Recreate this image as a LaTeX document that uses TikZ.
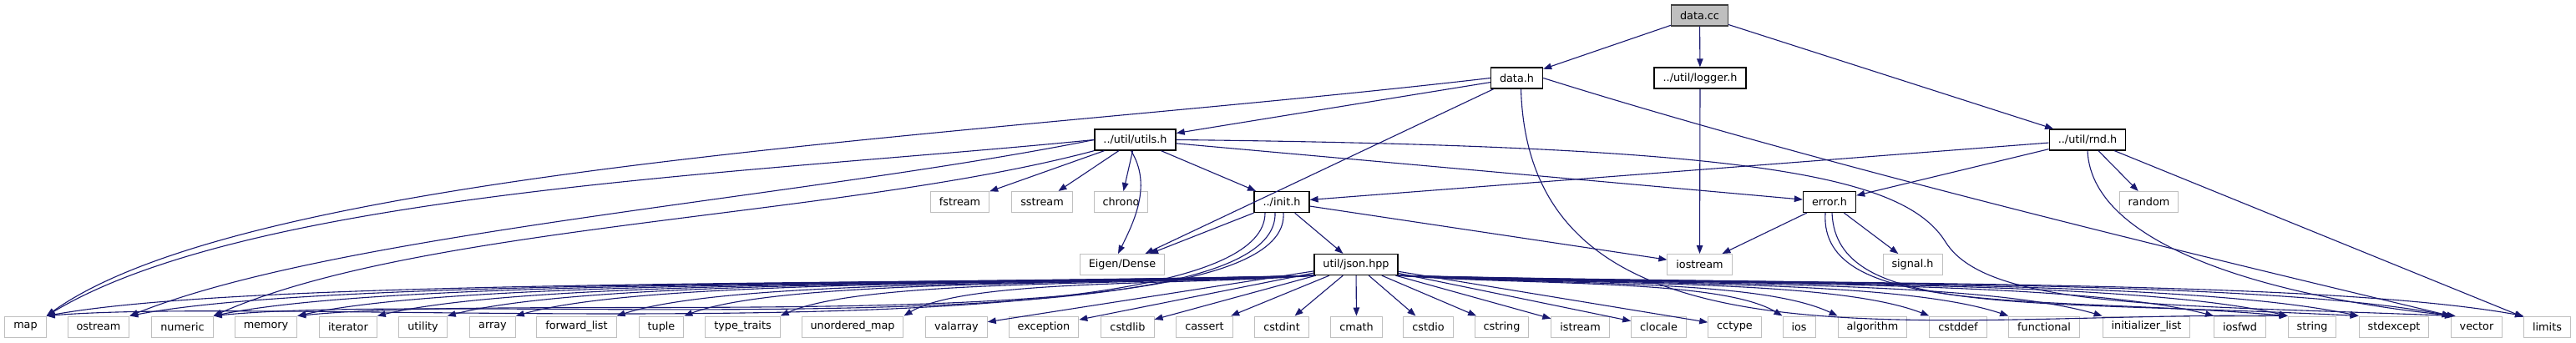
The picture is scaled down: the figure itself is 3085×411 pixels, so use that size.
\documentclass[tikz,border=0pt]{standalone}
\usepackage{fontspec}
\setmainfont{DejaVu Sans}
\usetikzlibrary{arrows.meta, positioning}
\definecolor{cedge}{HTML}{191970}
\definecolor{cgrey}{HTML}{BFBFBF}
\definecolor{cdark}{HTML}{404040}
\tikzset{
  every picture/.style={font=\fontsize{12.8}{14}\selectfont},
  file/.style={draw=black, fill=white, line width=1.3pt, minimum height=25pt, inner xsep=10.5pt, inner ysep=0pt},
  sys/.style={file, draw=cgrey, line width=1pt},
  root/.style={file, fill=cgrey, draw=cdark},
  dep/.style={-{Triangle[length=10pt, width=7.5pt]}, draw=cedge, line width=1.1pt},
}

\begin{document}
\begin{tikzpicture}[x=1pt, y=1pt]
  \fill[white] (0,0) rectangle (3085,-411);
  \useasboundingbox (0,0) rectangle (3085,-411);
  % project files
  \node[root] (dc) at (2035.5,-18.5) {data.cc};
  \node[file] (dh) at (1816.5,-93.5) {data.h};
  \node[file] (lg) at (2036,-93.5) {../util/logger.h};
  \node[file] (ut) at (1359.5,-167.5) {../util/utils.h};
  \node[file] (rnd) at (2500,-167.5) {../util/rnd.h};
  \node[file] (ini) at (1535,-242) {../init.h};
  \node[file] (err) at (2191,-242) {error.h};
  \node[file] (js) at (1624,-317) {util/json.hpp};
  % system headers, middle rows
  \node[sys] (fs) at (1149.5,-242) {fstream};
  \node[sys] (ss) at (1248,-242) {sstream};
  \node[sys] (chr) at (1342.5,-242) {chrono};
  \node[sys] (rand) at (2573.5,-242) {random};
  \node[sys] (eig) at (1344,-317) {Eigen/Dense};
  \node[sys] (iost) at (2035.5,-317) {iostream};
  \node[sys] (sig) at (2290.5,-317) {signal.h};
  % bottom row
  \foreach \n/\t/\x in {map/map/30.5, ostream/ostream/118, numeric/numeric/218.5, memory/memory/318.5,
      iterator/iterator/417, utility/utility/506.5, array/array/590, fwdlist/forward\_list/690.5,
      tuple/tuple/792, typetraits/type\_traits/889.5, umap/unordered\_map/1021, valarray/valarray/1145.5,
      exception/exception/1250, cstdlib/cstdlib/1350.5, cassert/cassert/1442.5, cstdint/cstdint/1535,
      cmath/cmath/1624.5, cstdio/cstdio/1710.5, cstring/cstring/1798.5, istream/istream/1892.5,
      clocale/clocale/1986.5, cctype/cctype/2077.5, ios/ios/2154.5, algorithm/algorithm/2242.5,
      cstddef/cstddef/2345, functional/functional/2448, initlist/initializer\_list/2570.5,
      iosfwd/iosfwd/2682.5, string/string/2769, stdexcept/stdexcept/2867, vector/vector/2966,
      limits/limits/3050.5}
    \node[sys] (\n) at (\x,-391.5) {\t};

  % data.cc
  \draw[dep] (dc) -- (dh);
  \draw[dep] (dc) -- (lg);
  \draw[dep] (dc) -- (rnd);
  % data.h
  \draw[dep] (dh.west) .. controls +(-600,-70) and +(250,179) .. (map.north east);
  \draw[dep] (dh) -- (ut);
  \draw[dep] (dh) -- (eig);
  \draw[dep] ([xshift=5pt]dh.south) .. controls +(10,-350) and +(-440,5) .. (string.north west);
  \draw[dep] (dh.east) .. controls +(350,-110) and +(-250,60) .. (vector.north west);
  % logger.h
  \draw[dep] (lg) -- (iost);
  % utils.h
  \draw[dep] (ut.west) .. controls +(-400,-40) and +(250,150) .. (map.north east);
  \draw[dep] (ut.west) .. controls +(-350,-70) and +(250,100) .. (ostream.north east);
  \draw[dep] (ut.south west) .. controls +(-300,-80) and +(250,110) .. (numeric.north east);
  \draw[dep] (ut) -- (fs);
  \draw[dep] (ut) -- (ss);
  \draw[dep] (ut) -- (chr);
  \draw[dep] ([xshift=-5pt]ut.south) .. controls +(25,-40) and +(20,40) .. ([xshift=-5pt]eig.north);
  \draw[dep] (ut) -- (ini);
  \draw[dep] (ut) -- (err);
  \draw[dep] (ut.east) .. controls (2100,-175) and (2280,-210) .. (2330,-290)
    .. controls (2380,-370) and (2600,-365) .. ([xshift=3pt]vector.north west);
  % rnd.h
  \draw[dep] (rnd) -- (ini);
  \draw[dep] (rnd) -- (err);
  \draw[dep] (rnd) -- (rand);
  \draw[dep] (rnd.south) .. controls +(5,-120) and +(-200,20) .. ([xshift=6pt]vector.north west);
  \draw[dep] (rnd) -- (limits);
  % init.h
  \draw[dep] (ini) -- (eig);
  \draw[dep] (ini) -- (js);
  \draw[dep] (ini) -- (iost);
  \draw[dep] ([xshift=-20pt]ini.south) .. controls +(0,-180) and +(300,25) .. (map.north east);
  \draw[dep] ([xshift=-8pt]ini.south) .. controls +(5,-170) and +(300,30) .. (numeric.north east);
  \draw[dep] ([xshift=2pt]ini.south) .. controls +(10,-160) and +(300,30) .. (memory.north east);
  % error.h
  \draw[dep] (err) -- (iost);
  \draw[dep] (err) -- (sig);
  \draw[dep] ([xshift=-5pt]err.south) .. controls +(-8,-125) and +(-300,25) .. (string.north west);
  \draw[dep] ([xshift=3pt]err.south) .. controls +(5,-125) and +(-400,20) .. (stdexcept.north west);
  % json.hpp
  \foreach \n/\d in {map/500, ostream/470, numeric/440, memory/410, iterator/380, utility/350,
      array/320, fwdlist/280, tuple/240, typetraits/200, umap/150}
    \draw[dep] (js.south west) .. controls +(-\d,-12) and +(0.5*\d,45) .. (\n.north east);
  \foreach \n in {valarray, exception, cstdlib, cassert, cstdint, cmath, cstdio, cstring, istream, clocale, cctype}
    \draw[dep] (js) -- (\n);
  \foreach \n/\d in {ios/150, algorithm/190, cstddef/230, functional/270, initlist/310, iosfwd/350,
      string/390, stdexcept/430, vector/470, limits/500}
    \draw[dep] (js.south east) .. controls +(\d,-12) and +(-0.5*\d,45) .. (\n.north west);
\end{tikzpicture}
\end{document}
